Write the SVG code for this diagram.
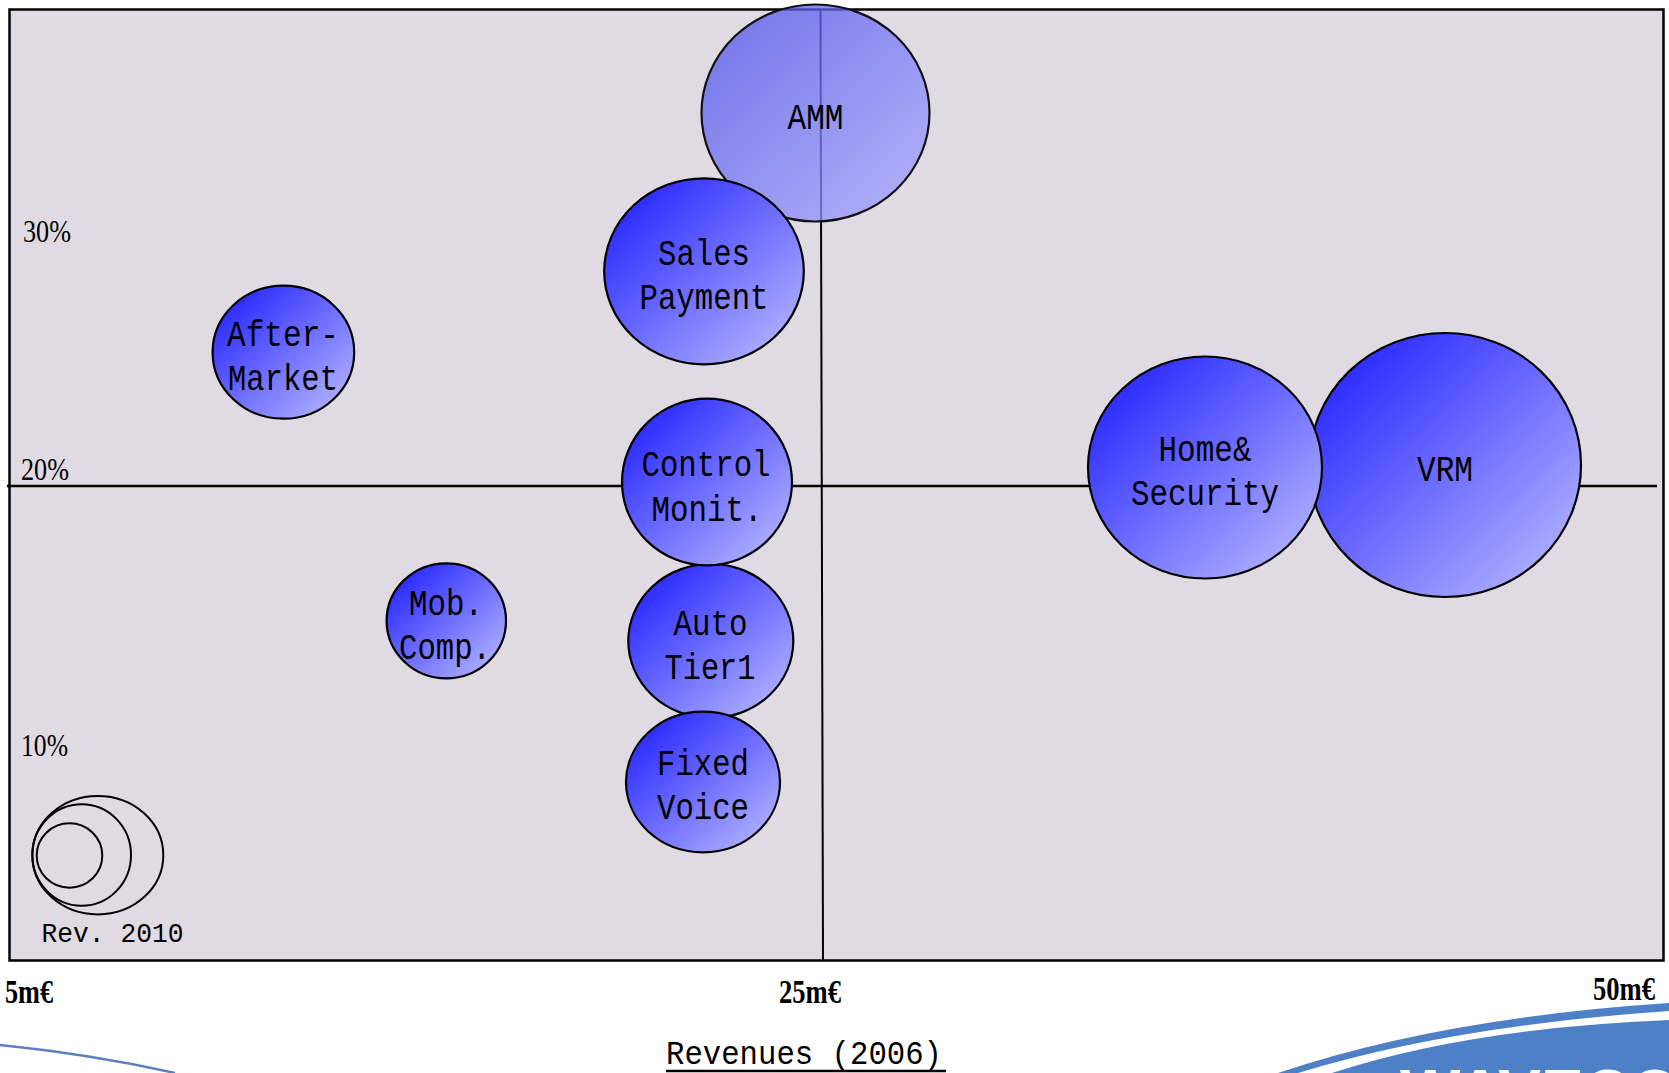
<svg xmlns="http://www.w3.org/2000/svg" width="1669" height="1073" viewBox="0 0 1669 1073">
  <defs>
    <linearGradient id="gb" x1="0.12" y1="0.12" x2="0.88" y2="0.88">
      <stop offset="0" stop-color="#2a2aff"/>
      <stop offset="1" stop-color="#acacff"/>
    </linearGradient>
    <linearGradient id="ga" x1="0.12" y1="0.12" x2="0.88" y2="0.88">
      <stop offset="0" stop-color="#5658ee"/>
      <stop offset="1" stop-color="#9c9cff"/>
    </linearGradient>
    <style>
      .bub { fill: url(#gb); stroke: #000; stroke-width: 2.2; }
      .amm { fill: url(#ga); fill-opacity: 0.75; stroke: #111; stroke-width: 2.2; }
      .leg { fill: none; stroke: #000; stroke-width: 2; }
      .ax { stroke: #000; fill: none; }
      .lbl { font-family: "Liberation Mono", "DejaVu Sans Mono", monospace; font-size: 36px; text-anchor: middle; fill: #000; }
      .pct { font-family: "Liberation Serif", serif; font-size: 31px; fill: #000; }
      .tick { font-family: "Liberation Serif", serif; font-weight: bold; font-size: 34px; fill: #000; }
      .ttl { font-family: "Liberation Mono", monospace; font-size: 34px; fill: #000; }
    </style>
  </defs>

  <rect x="0" y="0" width="1669" height="1073" fill="#ffffff"/>

  <g id="plot-area">
    <rect x="9.5" y="9.5" width="1654" height="951" fill="#e0dbe3" stroke="#000" stroke-width="2.5"/>
  </g>

  <g id="connectors">
    <line class="ax" x1="7" y1="486" x2="1657" y2="486" stroke-width="2.5"/>
    <line class="ax" x1="820.5" y1="10" x2="823" y2="960" stroke-width="2"/>
  </g>

  <g id="axis-labels">
    <text class="pct" x="23" y="242" textLength="48" lengthAdjust="spacingAndGlyphs">30%</text>
    <text class="pct" x="21" y="480" textLength="48" lengthAdjust="spacingAndGlyphs">20%</text>
    <text class="pct" x="21" y="756" textLength="47" lengthAdjust="spacingAndGlyphs">10%</text>
    <text class="tick" x="5" y="1003" textLength="48" lengthAdjust="spacingAndGlyphs">5m€</text>
    <text class="tick" x="779" y="1003" textLength="62" lengthAdjust="spacingAndGlyphs">25m€</text>
    <text class="tick" x="1593" y="1000" textLength="62" lengthAdjust="spacingAndGlyphs">50m€</text>
    <text class="ttl" x="666" y="1064" textLength="276" lengthAdjust="spacingAndGlyphs">Revenues (2006)</text>
    <line x1="666" y1="1071" x2="946" y2="1071" stroke="#000" stroke-width="2.5"/>
  </g>

  <g id="node-vrm">
    <ellipse class="bub" cx="1445" cy="465" rx="136" ry="132"/>
    <text class="lbl" x="1445" y="481" textLength="56" lengthAdjust="spacingAndGlyphs">VRM</text>
  </g>
  <g id="node-home-security">
    <ellipse class="bub" cx="1205" cy="467.5" rx="117" ry="111"/>
    <text class="lbl" x="1205" y="461" textLength="93" lengthAdjust="spacingAndGlyphs">Home&amp;</text>
    <text class="lbl" x="1205" y="505" textLength="148" lengthAdjust="spacingAndGlyphs">Security</text>
  </g>

  <g id="node-amm">
    <ellipse class="amm" cx="815.5" cy="113" rx="114" ry="108.5"/>
    <text class="lbl" x="815.5" y="129" textLength="56" lengthAdjust="spacingAndGlyphs">AMM</text>
  </g>
  <g id="node-sales-payment">
    <ellipse class="bub" cx="704" cy="271.3" rx="99.8" ry="93"/>
    <text class="lbl" x="704" y="265" textLength="92" lengthAdjust="spacingAndGlyphs">Sales</text>
    <text class="lbl" x="704" y="309" textLength="129" lengthAdjust="spacingAndGlyphs">Payment</text>
  </g>
  <g id="node-after-market">
    <ellipse class="bub" cx="283.4" cy="352.2" rx="70.8" ry="66.5"/>
    <text class="lbl" x="283" y="345.7" textLength="112" lengthAdjust="spacingAndGlyphs">After-</text>
    <text class="lbl" x="283" y="390" textLength="110" lengthAdjust="spacingAndGlyphs">Market</text>
  </g>
  <g id="node-auto-tier1">
    <ellipse class="bub" cx="710.8" cy="641" rx="82.5" ry="77"/>
    <text class="lbl" x="710.5" y="635" textLength="74" lengthAdjust="spacingAndGlyphs">Auto</text>
    <text class="lbl" x="710" y="679.3" textLength="91" lengthAdjust="spacingAndGlyphs">Tier1</text>
  </g>
  <g id="node-control-monit">
    <ellipse class="bub" cx="707" cy="482" rx="85" ry="83.3"/>
    <text class="lbl" x="706" y="475.7" textLength="129" lengthAdjust="spacingAndGlyphs">Control</text>
    <text class="lbl" x="707" y="521" textLength="111" lengthAdjust="spacingAndGlyphs">Monit.</text>
  </g>
  <g id="node-fixed-voice">
    <ellipse class="bub" cx="703" cy="782" rx="77" ry="70.3"/>
    <text class="lbl" x="703" y="775" textLength="92" lengthAdjust="spacingAndGlyphs">Fixed</text>
    <text class="lbl" x="703" y="819.3" textLength="92" lengthAdjust="spacingAndGlyphs">Voice</text>
  </g>
  <g id="node-mob-comp">
    <ellipse class="bub" cx="446.3" cy="620.8" rx="59.7" ry="57.5"/>
    <text class="lbl" x="446" y="615" textLength="74" lengthAdjust="spacingAndGlyphs">Mob.</text>
    <text class="lbl" x="445" y="659" textLength="92" lengthAdjust="spacingAndGlyphs">Comp.</text>
  </g>

  <g id="legend">
    <ellipse class="leg" cx="97.8" cy="855.2" rx="65.5" ry="59.2"/>
    <ellipse class="leg" cx="81.7" cy="855" rx="49.3" ry="50.7"/>
    <ellipse class="leg" cx="69.5" cy="855.5" rx="32.8" ry="32.2"/>
    <text class="lbl" x="41.5" y="941.7" style="font-size:28px;text-anchor:start" textLength="142" lengthAdjust="spacingAndGlyphs">Rev. 2010</text>
  </g>

  <g id="logo">
    <path d="M0,1045 Q90,1054 175,1073" fill="none" stroke="#5b7fbf" stroke-width="2.5"/>
    <path d="M1278,1073 Q1440,1018 1669,1003 L1669,1011 Q1450,1026 1298,1073 Z" fill="#4d80c6"/>
    <path d="M1332,1073 Q1470,1028 1669,1020 L1669,1073 Z" fill="#4d80c6"/>
    <text x="1400" y="1115" font-family="Liberation Sans, sans-serif" font-weight="bold" font-size="64" fill="#ffffff">WAVECOM</text>
  </g>
</svg>
